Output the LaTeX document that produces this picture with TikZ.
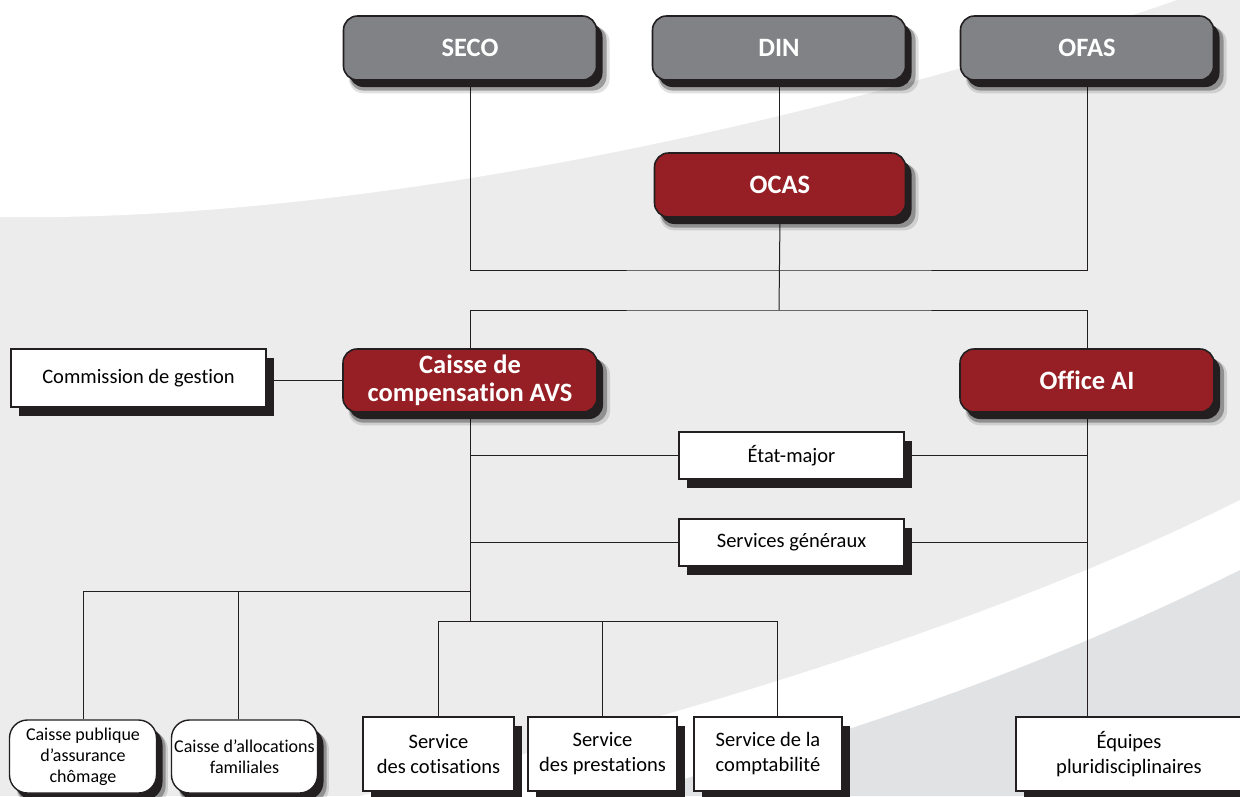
\documentclass[tikz,border=0pt]{standalone}
\usepackage{fontspec}
\setmainfont{Carlito}[Ligatures={NoCommon,NoContextual}]
\usetikzlibrary{shadows}
\definecolor{bgl}{HTML}{ECECEC}
\definecolor{bgd}{HTML}{E1E2E3}
\definecolor{gfill}{HTML}{808285}
\definecolor{rfill}{HTML}{951F24}
\definecolor{ink}{HTML}{231F20}
\pgfdeclarelayer{back}
\pgfdeclarelayer{lines}
\pgfsetlayers{back,lines,main}
\begin{document}
\begin{tikzpicture}[x=1pt,y=-1pt,
 softshadow/.style={
   drop shadow={shadow xshift=9pt,shadow yshift=-12pt,shadow scale=1.03,opacity=.12,fill=black},
   drop shadow={shadow xshift=8pt,shadow yshift=-10pt,shadow scale=1.015,opacity=.3,fill=black},
   drop shadow={shadow xshift=6pt,shadow yshift=-7pt,opacity=1,fill=ink}},
 hardshadow/.style={drop shadow={shadow xshift=8pt,shadow yshift=-9pt,opacity=1,fill=ink}},
 topbox/.style={softshadow, rounded corners=14pt, draw=ink, line width=1.6pt, text=white,
   font=\fontsize{26.5}{27.5}\selectfont\bfseries, align=center,
   minimum width=253pt, minimum height=64pt, inner sep=0pt},
 graybox/.style={topbox, fill=gfill},
 redbox/.style={topbox, fill=rfill},
 whitebox/.style={hardshadow, draw=ink, fill=white, line width=1.4pt,
   font=\fontsize{20.5}{25}\selectfont, align=center, inner sep=0pt},
 roundwhite/.style={softshadow, draw=ink, fill=white, line width=1.4pt, rounded corners=18pt,
   font=\fontsize{18}{21}\selectfont, align=center, inner sep=0pt},
 link/.style={draw=ink, line width=1pt}]

\begin{pgfonlayer}{back}
\fill[bgl] (0,0) rectangle (1240,796);
\fill[white] (0,0) -- (0,217) .. controls (350,222) and (800,130) .. (1177,0) -- cycle;
\fill[white] (360,796) .. controls (700,712) and (1000,620) .. (1240,500) -- (1240,796) -- cycle;
\fill[bgd] (622,796) .. controls (850,735) and (1050,665) .. (1240,570) -- (1240,796) -- cycle;
\end{pgfonlayer}
\useasboundingbox (0,0) rectangle (1240,796);

% top level
\node[graybox] (seco) at (470,48) {SECO};
\node[graybox] (din)  at (779,48) {DIN};
\node[graybox] (ofas) at (1087,48) {OFAS};
\node[redbox, minimum width=251pt] (ocas) at (780,185) {OCAS};

% second level
\node[redbox, minimum width=254pt, minimum height=63pt] (avs) at (470,380.5) {Caisse de\\compensation AVS};
\node[redbox, minimum width=254pt, minimum height=63pt] (oai) at (1087,380.5) {Office AI};
\node[whitebox, minimum width=255pt, minimum height=58pt] (comm) at (138.5,378) {Commission de gestion};

% staff
\node[whitebox, minimum width=225pt, minimum height=47pt] (em) at (791.5,455.5) {État-major};
\node[whitebox, minimum width=225pt, minimum height=47pt] (sg) at (791.5,542.5) {Services généraux};

% bottom
\node[roundwhite, minimum width=147pt, minimum height=73pt] (chom) at (83,756.5) {Caisse publique\\d’assurance\\chômage};
\node[roundwhite, minimum width=146pt, minimum height=73pt] (alloc) at (244.5,756.5) {Caisse d’allocations\\familiales};
\node[whitebox, minimum width=151pt, minimum height=74pt] (cot) at (438.5,754) {Service\\des cotisations};
\node[whitebox, minimum width=149pt, minimum height=74pt] (prest) at (602.5,754) {Service\\des prestations};
\node[whitebox, minimum width=148pt, minimum height=74pt] (compt) at (768,754) {Service de la\\comptabilité};
\node[whitebox, minimum width=226pt, minimum height=74pt] (equ) at (1129,754) {Équipes\\pluridisciplinaires};

\coordinate (jtop) at (779,270);
\coordinate (jmid) at (779,310);
\coordinate (jfam) at (470,591);
\coordinate (jalloc) at (238,591);
\coordinate (jsvc) at (470,621);
\coordinate (jcompt) at (777,621);

\begin{pgfonlayer}{lines}
\draw[link] (seco.south) |- (jtop) -| (ofas.south);
\draw[link] (din.south) -- (din.south |- ocas.north);
\draw[link] (ocas.south) -- (jmid);
\draw[link] (avs.north) |- (jmid) -| (oai.north);
\draw[link] (avs.west -| comm.east) -- (avs.west);
\draw[link] (avs.south) -- (jsvc);
\draw[link] (avs.south |- em.west) -- (em.west);
\draw[link] (em.east) -- (em.east -| oai.south);
\draw[link] (avs.south |- sg.west) -- (sg.west);
\draw[link] (sg.east) -- (sg.east -| oai.south);
\draw[link] (oai.south) -- (oai.south |- equ.north);
\draw[link] (chom.north) |- (jfam);
\draw[link] (jalloc) -- (jalloc |- alloc.north);
\draw[link] (cot.north) |- (jsvc) -- (jcompt) -- (jcompt |- compt.north);
\draw[link] (prest.north) -- (prest.north |- jsvc);
\end{pgfonlayer}
\end{tikzpicture}
\end{document}
